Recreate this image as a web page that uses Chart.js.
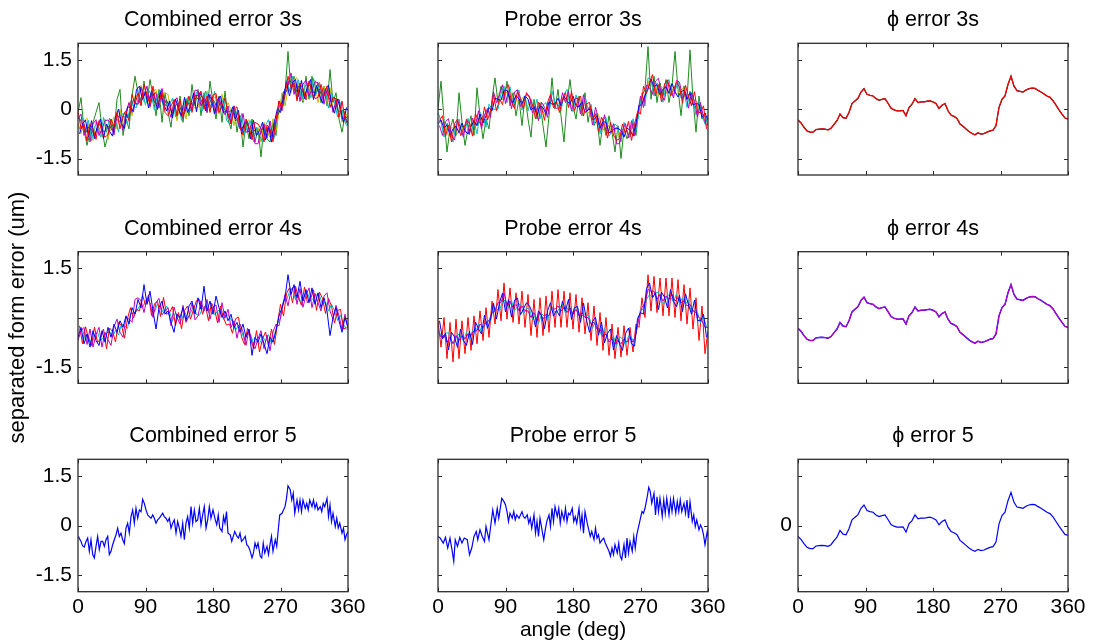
<!DOCTYPE html>
<html>
<head>
<meta charset="utf-8">
<script src="https://cdn.jsdelivr.net/npm/chart.js@4.4.1/dist/chart.umd.min.js"></script>
<style>
  html, body { margin: 0; padding: 0; background: #fff; }
  #fig { position: relative; width: 1093px; height: 643px; overflow: hidden; background: #fff; }
  #fig canvas { position: absolute; left: 0; top: 0; }
</style>
</head>
<body>
<div id="fig"></div>
<script>
// Sampling angles (deg): even grid and the interleaved mid grid
const angleDeg = [
  0,4,8,12,16,20,24,28,32,36,
  40,44,48,52,56,60,64,68,72,76,
  80,84,88,92,96,100,104,108,112,116,
  120,124,128,132,136,140,144,148,152,156,
  160,164,168,172,176,180,184,188,192,196,
  200,204,208,212,216,220,224,228,232,236,
  240,244,248,252,256,260,264,268,272,276,
  280,284,288,292,296,300,304,308,312,316,
  320,324,328,332,336,340,344,348,352,356,
  360
];
const angleMid = [
  2,6,10,14,18,22,26,30,34,38,
  42,46,50,54,58,62,66,70,74,78,
  82,86,90,94,98,102,106,110,114,118,
  122,126,130,134,138,142,146,150,154,158,
  162,166,170,174,178,182,186,190,194,198,
  202,206,210,214,218,222,226,230,234,238,
  242,246,250,254,258,262,266,270,274,278,
  282,286,290,294,298,302,306,310,314,318,
  322,326,330,334,338,342,346,350,354,358
];
const xTicks = [0, 90, 180, 270, 360];
const yTicks = [-1.5, 0, 1.5];

// ---- Combined error, 3 sensors (um) ----
const comb3Green = [
  -0.1,0.35,-0.6,-1.1,-0.7,-0.4,-0.1,0.2,-0.6,-1.15,
  -0.8,-0.3,-0.7,0.3,0.6,-0.8,-0.3,-0.6,0.4,1.0,
  0.5,0.1,0.85,0.2,0.9,0.4,-0.2,0.6,-0.4,0.5,
  -0.1,-0.55,0.3,-0.3,0.4,-0.4,0.3,-0.2,0.75,0.1,
  0.6,-0.2,0.5,-0.1,0.85,0.2,-0.3,0.4,-0.4,0.55,
  -0.3,-0.6,0.1,-0.7,-0.2,-1.15,-0.4,-0.9,-0.3,-1.0,
  -0.6,-1.45,-0.5,-0.9,-1.0,-0.4,-0.8,0.1,0.2,0.5,
  1.75,0.6,1.0,0.3,0.8,0.2,1.0,0.3,1.0,0.4,
  0.8,0.2,0.7,0.1,1.2,0.2,0.5,-0.3,-0.7,-0.2,
  -0.5
];
const comb3Red = [
  -0.05,-0.6,-0.45,-0.97,-0.45,-0.6,-0.92,-0.35,-0.7,-0.85,
  -0.78,-0.3,-0.53,-0.1,-0.6,-0.2,-0.05,-0.35,0.45,0.15,
  0.5,0.12,0.75,0.4,0.18,0.7,0.15,0.23,0.53,-0.1,
  -0.2,0.1,0.27,-0.2,0.3,-0.23,0.1,0.4,-0.1,0.43,
  0.3,0.55,0.0,0.4,-0.1,0.42,0.48,-0.1,0.1,0.33,
  -0.15,-0.45,0.0,0.07,-0.55,-0.78,-0.3,-0.57,-0.93,-0.4,
  -0.45,-0.6,-1.0,-0.48,-0.61,-0.99,-0.35,0.25,0.05,0.4,
  1.0,0.65,0.8,0.25,0.78,0.61,0.28,0.85,0.5,0.33,
  0.35,0.75,0.4,0.7,0.05,0.35,0.32,-0.25,0.25,-0.3,
  -0.2
];
const comb3Blue = [   // on angleMid
  -0.75,-0.45,-0.33,-0.84,-0.35,-0.89,-0.51,-0.3,-0.9,-0.45,
  -0.67,-0.82,-0.24,0.0,-0.45,-0.58,0.07,0.05,-0.07,0.6,
  0.7,0.29,0.52,0.04,0.56,0.37,-0.01,0.53,0.16,-0.05,
  0.25,-0.27,0.31,0.0,-0.19,0.36,-0.1,0.1,0.49,-0.08,
  0.5,0.35,-0.05,0.45,0.29,-0.15,0.29,0.4,-0.11,-0.03,
  -0.3,0.07,-0.29,-0.04,-0.74,-0.42,-0.38,-0.9,-0.34,-0.8,
  -0.65,-0.4,-0.94,-0.52,-1.0,-0.37,0.02,-0.1,0.35,0.83,
  0.4,0.8,0.9,0.39,0.87,0.32,0.69,0.9,0.29,0.72,
  0.42,0.18,0.62,0.73,0.15,-0.12,0.31,0.0,-0.4,0.05
];
const comb3Magenta = [
  -0.3,-0.15,-0.8,-0.47,-1.0,-0.45,-0.32,-0.8,-0.6,-0.35,
  -0.33,-0.45,-0.78,-0.2,-0.25,-0.65,-0.1,0.2,-0.1,0.2,
  0.15,0.67,0.4,0.7,0.08,0.45,0.5,0.03,0.63,0.15,
  0.05,-0.25,0.22,0.35,-0.15,-0.28,0.25,0.15,-0.05,0.58,
  0.55,0.1,0.35,-0.1,0.45,0.27,-0.12,0.35,0.0,-0.17,
  0.1,-0.45,0.1,-0.28,-0.6,-0.13,-0.7,-0.67,-0.43,-1.05,
  -1.05,-0.65,-0.45,-0.88,-0.36,-0.89,-0.4,0.25,-0.05,0.6,
  0.75,1.1,0.45,0.75,0.23,0.76,0.88,0.4,0.6,0.83,
  0.8,0.6,0.15,0.6,0.4,-0.1,0.27,0.3,-0.3,-0.25,
  -0.4
];
const comb3Cyan = [   // on angleMid
  -0.6,-0.25,-0.63,-0.34,-0.95,-0.54,-0.41,-0.85,-0.25,-0.7,
  -0.27,-0.67,-0.34,-0.7,-0.1,-0.23,-0.48,0.25,0.08,0.05,
  0.65,0.54,0.12,0.59,0.41,-0.03,0.44,0.58,0.06,0.15,
  0.15,0.33,-0.24,0.15,-0.34,0.21,0.35,-0.05,0.24,0.52,
  0.4,-0.05,0.55,0.25,0.04,0.55,-0.01,0.05,0.34,-0.33,
  -0.45,-0.13,0.01,-0.54,-0.14,-0.77,-0.48,-0.35,-0.99,-0.55,
  -0.8,-1.0,-0.49,-0.32,-0.8,-0.87,-0.03,0.15,0.1,0.88,
  0.55,1.0,0.6,0.89,0.27,0.67,0.79,0.35,0.94,0.47,
  0.82,0.33,0.52,0.03,0.5,0.23,-0.24,0.2,-0.25,-0.5
];
const comb3Yellow = [
  -0.45,-0.75,-0.35,-0.27,-0.8,-0.95,-0.37,-0.55,-0.85,-0.3,
  -0.93,-0.5,-0.23,-0.6,0.0,-0.55,-0.15,0.2,-0.2,0.4,
  0.4,0.72,0.2,0.55,0.03,0.55,0.6,0.08,0.28,0.5,
  0.45,-0.1,0.12,-0.35,0.2,0.07,-0.3,0.35,0.1,0.03,
  0.05,0.5,0.2,0.55,-0.05,0.32,0.38,-0.15,0.45,-0.02,
  0.2,-0.05,-0.5,-0.08,-0.35,-0.83,-0.4,-0.32,-0.88,-0.75,
  -0.55,-1.0,-0.4,-0.68,-0.86,-0.29,-0.65,-0.1,0.5,0.1,
  0.6,0.5,0.9,0.95,0.43,0.26,0.83,0.65,0.35,0.88,
  0.2,0.55,0.7,0.2,0.65,0.0,0.22,0.3,-0.4,-0.05,
  -0.3
];
const comb3Dark = [   // on angleMid
  -0.28,-0.45,-0.73,-0.54,-0.62,-0.82,-0.53,-0.45,-0.7,-0.63,
  -0.49,-0.67,-0.29,-0.35,-0.4,-0.1,-0.26,-0.03,0.3,0.12,
  0.22,0.47,0.54,0.29,0.51,0.2,0.34,0.43,0.11,0.28,
  0.05,-0.12,0.11,0.18,-0.07,-0.14,0.17,0.18,0.12,0.42,
  0.4,0.17,0.3,0.07,0.34,0.23,-0.01,0.22,0.04,-0.1,
  -0.07,-0.03,-0.36,-0.26,-0.62,-0.42,-0.43,-0.75,-0.69,-0.58,
  -0.8,-0.58,-0.72,-0.52,-0.8,-0.52,-0.18,-0.02,0.53,0.53,
  0.87,0.8,0.5,0.69,0.6,0.39,0.67,0.75,0.49,0.54,
  0.6,0.33,0.57,0.38,0.2,0.36,-0.02,-0.08,-0.03,-0.43
];

// ---- Probe error, 3 sensors (um) ----
const probe3Green = [
  0.0,0.85,-0.3,-1.3,-0.6,-0.3,-0.8,0.5,-0.4,-1.1,
  -0.6,-0.2,-0.8,0.65,-0.2,-0.9,-0.3,-0.6,0.3,0.95,
  0.2,0.7,0.3,0.85,0.1,0.5,-0.2,0.3,-0.5,0.4,
  -0.3,-0.85,0.3,-0.3,0.2,-0.5,-1.15,-0.2,0.95,0.0,
  0.6,-0.2,-1.0,0.2,0.9,0.1,-0.3,0.4,-0.2,0.5,
  -0.4,0.1,-0.5,-0.3,-1.1,-0.4,-0.8,-0.2,-0.7,-1.3,
  -0.5,-1.5,-0.6,-0.9,-0.7,-0.4,-0.8,0.1,0.4,0.6,
  1.9,0.3,1.0,0.2,0.8,0.4,0.9,0.2,0.7,1.75,
  0.6,-0.2,0.7,0.3,1.8,0.3,-0.7,0.4,-0.3,-0.2,
  -0.5
];
const probe3Red = [   // on angleMid
  -0.35,-0.2,-0.83,-0.49,-1.0,-0.44,-0.31,-0.8,-0.6,-0.35,
  -0.42,-0.82,-0.14,-0.35,-0.5,0.07,-0.33,-0.05,0.43,-0.05,
  0.3,0.14,0.62,0.74,0.21,0.02,0.54,0.33,0.01,0.5,
  0.35,0.13,-0.29,0.2,0.06,-0.34,0.2,0.45,0.04,0.22,
  -0.1,0.3,0.5,0.05,0.54,-0.05,0.24,0.4,-0.21,0.17,
  0.2,-0.33,-0.14,-0.69,-0.24,-0.47,-0.88,-0.4,-0.79,-0.95,
  -0.9,-0.45,-0.74,-0.37,-0.95,-0.47,-0.08,-0.15,0.7,0.48,
  0.8,1.05,0.4,0.74,0.22,0.77,0.89,0.4,0.59,0.82,
  0.67,0.18,0.72,0.38,0.1,0.53,-0.09,-0.1,0.1,-0.6
];
const probe3Blue = [
  -0.45,-0.33,-0.58,-0.47,-0.8,-0.6,-0.52,-0.72,-0.42,-0.65,
  -0.76,-0.52,-0.36,-0.5,-0.15,-0.42,-0.2,0.05,-0.05,0.33,
  0.3,0.27,0.55,0.58,0.3,0.2,0.42,0.31,0.16,0.4,
  0.3,-0.03,0.07,-0.18,0.1,0.05,-0.15,0.22,0.15,0.16,
  0.33,0.1,0.4,0.25,0.15,0.4,0.1,0.07,0.22,-0.1,
  -0.02,0.0,-0.32,-0.2,-0.58,-0.38,-0.4,-0.72,-0.68,-0.58,
  -0.58,-0.65,-0.85,-0.58,-0.63,-0.82,-0.42,0.1,0.15,0.42,
  0.6,0.92,0.67,0.75,0.43,0.61,0.68,0.48,0.78,0.53,
  0.37,0.53,0.57,0.3,0.5,0.13,0.17,0.15,-0.25,-0.12,
  -0.35
];
const probe3Magenta = [   // on angleMid
  -0.5,-0.8,-0.38,-0.29,-0.8,-0.94,-0.36,-0.55,-0.85,-0.3,
  -0.77,-0.27,-0.49,-0.05,-0.6,-0.18,0.02,-0.25,0.53,0.2,
  0.45,0.74,0.17,0.54,0.01,0.52,0.59,0.08,0.26,0.45,
  0.4,-0.12,0.11,-0.35,0.21,0.06,-0.25,0.4,0.14,0.02,
  0.05,0.5,0.2,0.55,-0.06,0.3,0.34,-0.15,0.44,-0.08,
  0.05,-0.48,0.06,-0.34,-0.64,-0.17,-0.73,-0.7,-0.44,-1.05,
  -1.05,-0.65,-0.44,-0.87,-0.35,-0.82,-0.18,0.4,0.05,0.73,
  0.65,0.45,0.85,0.94,0.42,0.27,0.84,0.65,0.34,0.87,
  0.82,0.33,0.52,0.03,0.5,0.23,-0.24,0.2,-0.25,-0.5
];
const probe3Cyan = [
  -0.1,-0.35,-0.85,-0.42,-0.6,-1.0,-0.47,-0.3,-0.8,-0.65,
  -0.28,-0.7,-0.38,-0.75,-0.1,-0.25,-0.55,0.15,0.0,0.0,
  0.0,0.47,0.7,0.2,0.68,0.1,0.4,0.58,-0.02,0.4,
  -0.05,0.3,-0.03,0.3,-0.3,0.12,0.2,-0.15,0.55,0.18,
  0.15,-0.05,0.45,0.6,0.1,-0.08,0.43,0.15,-0.15,0.38,
  0.0,0.15,-0.45,-0.13,-0.75,-0.28,-0.25,-0.82,-0.68,-0.45,
  -0.55,-1.0,-0.4,-0.68,-0.86,-0.29,-0.65,-0.1,0.5,0.1,
  0.95,0.9,0.4,0.8,0.63,0.21,0.73,0.9,0.4,0.53,
  0.85,0.35,0.55,0.05,0.55,0.3,-0.18,0.25,-0.2,-0.45,
  -0.2
];
const probe3Yellow = [   // on angleMid
  -0.25,-0.58,-0.53,-0.82,-0.55,-0.61,-0.76,-0.48,-0.65,-0.72,
  -0.54,-0.37,-0.56,-0.27,-0.48,-0.18,-0.03,-0.1,0.18,0.42,
  0.48,0.29,0.57,0.39,0.26,0.5,0.21,0.25,0.38,0.02,
  0.22,0.08,-0.14,0.1,0.04,-0.17,0.13,0.3,0.14,0.24,
  0.15,0.37,0.22,0.4,0.09,0.25,0.24,-0.02,0.27,-0.03,
  -0.15,-0.33,-0.14,-0.16,-0.52,-0.67,-0.46,-0.62,-0.81,-0.55,
  -0.88,-0.67,-0.57,-0.77,-0.5,-0.69,-0.23,0.25,0.2,0.66,
  0.9,0.67,0.7,0.41,0.67,0.6,0.44,0.72,0.54,0.45,
  0.55,0.63,0.3,0.46,0.12,0.28,0.21,-0.15,-0.15,-0.13
];

// ---- Combined error, 4 sensors (um) ----
const comb4Blue = [
  -0.6,-0.3,-0.8,-0.5,-0.9,-0.4,-0.7,-0.85,-0.4,-0.75,
  -0.3,-0.6,-0.2,-0.45,-0.1,-0.3,0.05,-0.2,0.3,0.1,
  0.55,0.3,1.0,0.4,0.8,0.2,-0.35,0.3,0.5,0.1,
  0.2,-0.15,-0.45,0.1,0.0,0.3,-0.1,0.35,0.5,0.1,
  0.6,0.25,0.95,0.2,0.5,0.1,0.65,0.3,0.0,0.2,
  -0.1,0.1,-0.3,-0.15,-0.45,-0.2,-0.6,-0.35,-1.15,-0.6,
  -0.75,-0.5,-0.8,-1.1,-0.6,-0.75,-0.4,0.05,0.3,0.6,
  1.3,0.7,1.0,0.6,1.1,0.5,0.85,0.45,0.9,0.4,
  0.75,0.3,0.6,0.2,-0.55,0.0,0.3,-0.1,-0.45,0.0,
  -0.3
];
const comb4Red = [   // on angleMid
  -0.25,-0.8,-0.28,-0.64,-0.85,-0.29,-0.76,-0.65,-0.35,-0.95,
  -0.32,-0.42,-0.74,-0.15,-0.25,-0.63,-0.03,0.3,-0.02,0.25,
  0.2,0.69,0.37,0.69,0.06,0.42,0.49,0.03,0.61,0.1,
  0.15,0.33,-0.24,0.15,-0.34,0.21,0.35,-0.05,0.24,0.52,
  0.55,0.1,0.35,-0.1,0.44,0.25,-0.16,0.35,-0.01,-0.23,
  -0.2,-0.48,-0.04,0.01,-0.59,-0.82,-0.33,-0.6,-0.94,-0.4,
  -1.05,-0.65,-0.44,-0.87,-0.35,-0.82,-0.18,0.4,0.05,0.73,
  0.9,0.45,0.95,0.59,0.37,0.92,0.44,0.55,0.84,0.22,
  0.77,0.58,0.12,0.58,0.35,-0.17,0.21,0.25,-0.35,-0.3
];
const comb4Cyan = [   // on angleMid
  -0.37,-0.35,-0.7,-0.56,-0.83,-0.54,-0.46,-0.7,-0.6,-0.48,
  -0.42,-0.6,-0.39,-0.53,-0.2,-0.25,-0.33,0.12,0.13,0.18,
  0.35,0.29,0.52,0.57,0.28,0.17,0.41,0.31,0.14,0.35,
  0.18,-0.12,0.16,0.0,-0.09,0.19,-0.03,0.12,0.36,0.09,
  0.07,0.28,0.37,0.15,0.39,0.08,0.19,0.25,-0.06,0.1,
  0.02,-0.13,-0.39,-0.24,-0.41,-0.7,-0.5,-0.5,-0.79,-0.73,
  -0.8,-0.58,-0.72,-0.52,-0.8,-0.52,-0.18,-0.02,0.53,0.53,
  0.78,0.9,0.53,0.67,0.39,0.67,0.74,0.5,0.59,0.69,
  0.67,0.4,0.47,0.2,0.4,0.21,-0.09,0.07,-0.2,-0.37
];
const comb4Magenta = [
  -0.7,-0.4,-0.3,-0.82,-0.35,-0.9,-0.52,-0.3,-0.9,-0.45,
  -0.68,-0.85,-0.28,-0.05,-0.45,-0.6,0.0,-0.05,-0.15,0.55,
  0.6,0.52,0.15,0.6,0.43,0.0,0.45,0.58,0.08,0.2,
  0.3,-0.25,0.32,0.0,-0.2,0.37,-0.15,0.05,0.45,-0.07,
  0.05,0.5,0.2,0.55,-0.05,0.32,0.38,-0.15,0.45,-0.02,
  0.25,-0.3,-0.1,-0.63,-0.2,-0.43,-0.85,-0.37,-0.78,-0.95,
  -0.65,-0.4,-0.95,-0.53,-1.01,-0.44,-0.2,-0.25,0.25,0.7,
  0.35,0.85,0.95,0.4,0.88,0.31,0.68,0.9,0.3,0.73,
  0.45,0.2,0.65,0.75,0.2,-0.05,0.37,0.05,-0.35,0.1,
  -0.35
];

// ---- Probe error, 4 sensors (um) ----
const probe4Red = [
  -0.1,-0.9,0.0,-1.25,-0.15,-1.35,-0.05,-1.25,-0.1,-1.1,
  0.0,-1.0,0.05,-0.8,0.2,-0.7,0.3,-0.6,0.5,-0.2,
  0.85,-0.1,1.05,-0.05,0.9,-0.15,0.75,-0.2,0.8,-0.3,
  0.7,-0.55,0.55,-0.6,0.6,-0.55,0.65,-0.45,0.8,-0.3,
  0.85,-0.3,0.8,-0.3,0.75,-0.35,0.7,-0.45,0.6,-0.5,
  0.45,-0.7,0.35,-0.85,0.15,-1.0,0.0,-1.15,-0.2,-1.25,
  -0.3,-1.2,-0.25,-1.15,-0.3,-1.05,-0.2,-0.3,0.6,0.0,
  1.3,0.2,1.25,0.15,1.2,0.05,1.2,0.05,1.2,0.0,
  1.15,-0.1,1.0,-0.2,0.9,-0.35,0.6,-0.7,0.35,-1.1,
  -0.4
];
const probe4Blue = [   // on angleMid
  -0.1,-0.65,-0.48,-0.99,-0.45,-0.59,-0.91,-0.35,-0.7,-0.85,
  -0.42,-0.82,-0.14,-0.35,-0.5,0.07,-0.33,-0.05,0.43,-0.05,
  0.45,0.74,0.17,0.54,0.01,0.52,0.59,0.08,0.26,0.45,
  0.35,0.13,-0.29,0.2,0.06,-0.34,0.2,0.45,0.04,0.22,
  0.05,0.5,0.2,0.55,-0.06,0.3,0.34,-0.15,0.44,-0.08,
  -0.45,-0.13,0.01,-0.54,-0.14,-0.77,-0.48,-0.35,-0.99,-0.55,
  -0.8,-1.0,-0.49,-0.32,-0.8,-0.87,-0.03,0.15,0.1,0.88,
  1.05,0.6,0.75,0.24,0.77,0.62,0.29,0.85,0.49,0.32,
  0.67,0.18,0.72,0.38,0.1,0.53,-0.09,-0.1,0.1,-0.6
];
const probe4Magenta = [
  -0.4,-0.6,-0.55,-0.75,-0.6,-0.8,-0.55,-0.7,-0.55,-0.65,
  -0.5,-0.55,-0.4,-0.4,-0.2,-0.3,-0.15,-0.1,0.15,0.2,
  0.45,0.45,0.75,0.35,0.5,0.3,0.4,0.2,0.35,0.2,
  0.2,0.0,0.15,-0.1,0.15,-0.05,0.1,0.05,0.3,0.25,
  0.35,0.2,0.3,0.15,0.3,0.1,0.25,0.05,0.15,0.0,
  0.0,-0.2,-0.15,-0.35,-0.35,-0.6,-0.5,-0.75,-0.65,-0.8,
  -0.7,-0.8,-0.65,-0.75,-0.6,-0.75,-0.5,0.0,0.3,0.45,
  0.85,0.8,0.8,0.55,0.7,0.5,0.65,0.55,0.7,0.5,
  0.6,0.45,0.5,0.35,0.4,0.2,0.15,0.0,-0.1,-0.3,
  -0.3
];
const probe4Cyan = [   // on angleMid
  -0.45,-0.65,-0.48,-0.46,-0.73,-0.79,-0.49,-0.57,-0.72,-0.45,
  -0.67,-0.4,-0.47,-0.2,-0.45,-0.23,-0.08,-0.12,0.36,0.25,
  0.22,0.47,0.54,0.29,0.51,0.2,0.34,0.43,0.11,0.28,
  0.25,-0.05,0.06,-0.18,0.11,0.04,-0.1,0.27,0.19,0.15,
  0.28,0.4,0.13,0.33,0.06,0.3,0.29,0.0,0.09,0.14,
  -0.02,-0.33,-0.09,-0.34,-0.54,-0.34,-0.66,-0.68,-0.57,-0.88,
  -0.58,-0.65,-0.84,-0.57,-0.62,-0.75,-0.2,0.25,0.25,0.55,
  0.7,0.6,0.75,0.77,0.49,0.42,0.71,0.63,0.47,0.72,
  0.42,0.6,0.39,0.53,0.15,0.23,0.16,-0.17,0.03,-0.3
];

// ---- Five-sensor results (um), read at their own angles ----
const comb5Deg = [
  0,1,4,6,8.4,10.7,12.9,15.1,17.3,19.6,21.8,24,26.2,28.4,30.7,32.9,35.1,37.3,39.6,41.8,
  44,46.2,48.4,50.7,52.9,55.1,57.3,59.6,61.8,64,66.2,68.4,70.7,72.9,75.1,77.3,79.6,81.8,84,86.2,
  88.4,90.7,92.9,95.1,97.3,99.6,101.8,104,106.2,108.4,110.7,112.9,115,117.3,119.6,121.8,124,126.2,128.4,130.7,
  132.9,135.1,137.3,139.6,141.8,144,146.2,148.4,150.7,152.9,155.1,157.3,159.6,161.8,164,166.2,168.4,170.7,172.9,175.1,
  177.3,180,183,185,187,189,192,194,196,198,200,203,205,207,209,212,214,216,218,220,
  223,225,227,229,232,234,236,238,240,243,245,247,249,252,254,256,258,260,263,265,
  267,269,272,274,276,278,280,283,285,287,289,292,294,296,298,300,303,305,307,309,
  312,314,316,318,320,323,325,327,329,332,334,336,338,340,343,345,347,349,352,354,
  356,358,360
];
const comb5 = [
  -0.33,-0.36,-0.48,-0.61,-0.65,-0.48,-0.38,-0.78,-0.43,-0.88,-0.98,-0.63,-0.33,-0.73,-0.48,-0.48,-0.63,-0.43,-0.33,-0.88,
  -0.78,-0.58,-0.43,-0.28,-0.08,-0.33,-0.23,-0.43,-0.55,-0.08,0.07,-0.23,0.27,0.47,0.07,0.52,0.22,0.47,0.42,0.79,
  0.67,0.47,0.32,0.27,0.22,0.32,0.22,0.07,0.17,0.22,0.3,0.37,0.27,0.22,0.12,0.22,-0.08,0.07,0.17,-0.23,
  0.12,-0.08,-0.33,0.07,-0.43,0.07,0.27,-0.08,0.57,0.07,0.47,0.12,0.17,0.52,0.02,0.32,0.57,-0.08,0.17,0.57,
  0.22,0.47,0.17,0.02,0.32,-0.08,-0.18,0.27,0.07,0.42,-0.23,-0.28,-0.48,-0.33,-0.18,-0.33,-0.38,-0.23,-0.48,-0.43,
  -0.33,-0.58,-0.63,-0.73,-0.98,-0.83,-0.53,-0.68,-0.53,-0.93,-0.98,-0.53,-0.83,-0.63,-0.88,-0.58,-0.33,-0.78,-0.43,-0.63,
  -0.13,0.32,0.37,0.47,0.57,0.82,1.2,1.08,0.77,0.97,0.37,0.77,0.47,0.77,0.42,0.77,0.52,0.67,0.47,0.77,
  0.57,0.77,0.52,0.67,0.47,0.57,0.42,0.67,0.57,0.82,0.27,0.62,0.12,0.37,-0.03,0.22,-0.08,0.07,-0.23,-0.08,
  -0.43,-0.28,-0.18
];
const probe5Deg = [
  0,3,7,10,13,16,19,21,23,26,29,32,35,39,42,45,48,51,53,56,
  59,62,64,68,71,73,76,79,81,83,85,88,90,92,94,96,99,101,103,105,
  108,110,112,114,116,119,121,123,125,128,130,132,134,136,139,141,143,145,148,150,
  152,154,156,159,161,163,165,168,170,172,174,176,179,181,183,185,188,190,192,194,
  196,199,201,203,205,208,210,212,214,216,219,221,223,225,228,230,232,234,236,239,
  241,243,245,248,250,252,254,256,259,261,263,265,268,270,272,274,276,279,281,283,
  285,288,290,292,294,296,299,301,303,305,308,310,312,314,317,319,321,323,325,328,
  330,332,334,336,339,341,343,345,348,350,352,354,356,359,360
];
const probe5 = [
  -0.33,-0.38,-0.53,-0.36,-0.68,-0.38,-0.78,-1.08,-0.43,-0.63,-0.36,-0.53,-0.38,-0.43,-0.88,-0.68,-0.33,-0.18,-0.43,-0.13,
  -0.33,-0.48,-0.03,-0.43,0.12,0.47,0.07,0.52,0.22,0.52,0.82,0.72,0.62,0.42,0.12,0.37,0.22,0.42,0.17,0.32,
  0.22,0.32,0.42,0.27,0.22,0.32,0.07,0.22,-0.08,0.32,-0.23,0.12,-0.33,0.22,-0.18,-0.43,-0.13,0.12,0.32,-0.03,
  0.52,0.12,0.57,0.27,0.52,0.07,0.42,0.17,0.52,0.12,0.37,0.32,0.52,0.12,0.27,0.07,0.52,-0.03,0.32,-0.23,
  0.42,0.07,-0.13,-0.33,-0.18,-0.43,-0.08,-0.38,-0.28,-0.53,-0.43,-0.38,-0.53,-0.63,-0.78,-0.93,-0.68,-0.88,-0.58,-0.83,
  -0.53,-0.93,-1.03,-0.58,-0.98,-0.38,-0.83,-0.48,-0.78,-0.33,-0.68,-0.28,0.02,0.22,0.42,0.37,0.52,0.87,1.15,1.03,
  0.67,0.97,0.32,0.87,0.42,0.82,0.27,0.77,0.37,0.82,0.32,0.77,0.42,0.82,0.37,0.72,0.42,0.77,0.42,0.67,
  0.37,0.77,0.22,0.72,0.12,0.32,-0.03,0.17,-0.13,0.02,-0.08,-0.28,-0.58,-0.18,-0.33
];

// ---- Separated spindle (phi) error (um) ----
const phiError = [
  -0.33,-0.42,-0.55,-0.66,-0.70,-0.70,-0.62,-0.61,-0.60,-0.61,
  -0.63,-0.58,-0.46,-0.35,-0.15,-0.26,-0.28,-0.10,0.17,0.25,
  0.33,0.52,0.62,0.45,0.42,0.40,0.32,0.27,0.30,0.32,
  0.18,0.03,-0.02,-0.05,-0.05,-0.04,-0.20,0.05,0.15,0.32,
  0.20,0.22,0.22,0.24,0.25,0.22,0.17,0.02,0.12,0.17,
  -0.05,-0.18,-0.22,-0.28,-0.45,-0.52,-0.60,-0.68,-0.74,-0.78,
  -0.72,-0.76,-0.74,-0.70,-0.66,-0.64,-0.50,0.05,0.30,0.40,
  0.75,1.00,0.70,0.56,0.54,0.52,0.58,0.62,0.64,0.63,
  0.57,0.52,0.46,0.40,0.36,0.26,0.12,-0.02,-0.15,-0.27,
  -0.30
];

// ---- Figure layout ----
const FIG_W = 1093, FIG_H = 643;
const colX = [[78, 348], [438, 708], [798, 1068]];
const rowY = [[43.3, 175], [251.7, 383.3], [459.3, 591.7]];
const FONT = '"Liberation Sans", Arial, Helvetica, sans-serif';

const C = {
  blue: '#0000ff', green: '#1e8c1e', red: '#ff0000', cyan: '#00bfbf',
  magenta: '#bf00bf', yellow: '#bfbf00', dark: '#404040', black: '#3a1010'
};

// trace helper: values, their angles, colour, width
const tr = (y, x, color, w) => ({ y, x, color, w: w || 1 });

// first trace of each panel is drawn on top
const panels = [
  { row: 0, col: 0, title: 'Combined error 3s', yLabels: [1.5, 0, -1.5], series: [
    tr(comb3Red, angleDeg, C.red), tr(comb3Blue, angleMid, C.blue), tr(comb3Magenta, angleDeg, C.magenta),
    tr(comb3Cyan, angleMid, C.cyan), tr(comb3Dark, angleMid, C.dark), tr(comb3Yellow, angleDeg, C.yellow),
    tr(comb3Green, angleDeg, C.green)] },
  { row: 0, col: 1, title: 'Probe error 3s', yLabels: [], series: [
    tr(probe3Red, angleMid, C.red), tr(probe3Blue, angleDeg, C.blue), tr(probe3Magenta, angleMid, C.magenta),
    tr(probe3Cyan, angleDeg, C.cyan), tr(probe3Yellow, angleMid, C.yellow), tr(probe3Green, angleDeg, C.green)] },
  { row: 0, col: 2, title: '\u03d5 error 3s', yLabels: [], series: [
    tr(phiError, angleDeg, C.red, 1.1), tr(phiError, angleDeg, C.black, 1.3)] },

  { row: 1, col: 0, title: 'Combined error 4s', yLabels: [1.5, -1.5], yTitle: 'separated form error (um)', series: [
    tr(comb4Blue, angleDeg, C.blue), tr(comb4Magenta, angleDeg, C.magenta), tr(comb4Red, angleMid, C.red),
    tr(comb4Cyan, angleMid, C.cyan)] },
  { row: 1, col: 1, title: 'Probe error 4s', yLabels: [], series: [
    tr(probe4Blue, angleMid, C.blue), tr(probe4Magenta, angleDeg, C.magenta), tr(probe4Cyan, angleMid, C.cyan),
    tr(probe4Red, angleDeg, C.red)] },
  { row: 1, col: 2, title: '\u03d5 error 4s', yLabels: [], series: [
    tr(phiError, angleDeg, C.magenta, 1.1), tr(phiError, angleDeg, C.blue, 1.4)] },

  { row: 2, col: 0, title: 'Combined error 5', yLabels: [1.5, 0, -1.5], xLabels: true, series: [
    tr(comb5, comb5Deg, C.blue, 1.2)] },
  { row: 2, col: 1, title: 'Probe error 5', yLabels: [], xLabels: true, xTitle: 'angle (deg)', series: [
    tr(probe5, probe5Deg, C.blue, 1.2)] },
  { row: 2, col: 2, title: '\u03d5 error 5', yLabels: [0], xLabels: true, series: [
    tr(phiError, angleDeg, C.blue, 1.2)] }
];

// inward tick marks and a closed frame, drawn over the traces
const frameBox = {
  id: 'frameBox',
  afterDatasetsDraw(chart) {
    const { ctx, chartArea: a, scales: { x, y } } = chart;
    const len = 4;
    ctx.save();
    ctx.strokeStyle = '#2b2b2b';
    ctx.lineWidth = 1;
    ctx.beginPath();
    xTicks.forEach(v => {
      const px = Math.round(x.getPixelForValue(v)) + 0.5;
      ctx.moveTo(px, a.top); ctx.lineTo(px, a.top + len);
      ctx.moveTo(px, a.bottom); ctx.lineTo(px, a.bottom - len);
    });
    yTicks.forEach(v => {
      const py = Math.round(y.getPixelForValue(v)) + 0.5;
      ctx.moveTo(a.left, py); ctx.lineTo(a.left + len, py);
      ctx.moveTo(a.right, py); ctx.lineTo(a.right - len, py);
    });
    ctx.stroke();
    ctx.lineWidth = 1.3;
    ctx.strokeRect(a.left, a.top, a.right - a.left, a.bottom - a.top);
    ctx.restore();
  }
};

const fig = document.getElementById('fig');
const TITLE_SIZE = 21.5, TITLE_LH = TITLE_SIZE * 1.2, TITLE_GAP = 23;

panels.forEach(p => {
  const [L, R] = colX[p.col];
  const [T, B] = rowY[p.row];
  const yw = p.yTitle ? L : 60;
  const xh = p.xTitle ? 51 : (p.xLabels ? 32 : 0);
  const titlePadBottom = TITLE_GAP - TITLE_LH / 2;
  const titleBox = TITLE_LH + titlePadBottom;

  const canvas = document.createElement('canvas');
  canvas.width = FIG_W; canvas.height = FIG_H;
  canvas.style.width = FIG_W + 'px'; canvas.style.height = FIG_H + 'px';
  fig.appendChild(canvas);

  const datasets = p.series.map(s => ({
    data: s.y.map((v, i) => ({ x: s.x[i], y: v })),
    borderColor: s.color,
    borderWidth: s.w,
    pointRadius: 0,
    tension: 0,
    fill: false
  }));

  new Chart(canvas, {
    type: 'line',
    data: { datasets },
    options: {
      responsive: false,
      animation: false,
      devicePixelRatio: 1,
      events: [],
      layout: { padding: { left: L - yw, right: FIG_W - R, top: T - titleBox, bottom: FIG_H - B - xh } },
      plugins: {
        legend: { display: false },
        tooltip: { enabled: false },
        title: {
          display: true, text: p.title, fullSize: false, color: '#000',
          font: { family: FONT, size: TITLE_SIZE, weight: 'normal', lineHeight: 1.2 },
          padding: { top: 0, bottom: titlePadBottom }
        }
      },
      scales: {
        x: {
          type: 'linear', min: 0, max: 360,
          grid: { display: false, drawTicks: false }, border: { display: false },
          afterBuildTicks: s => { s.ticks = xTicks.map(v => ({ value: v })); },
          afterFit: s => { s.height = xh; },
          ticks: { display: !!p.xLabels, padding: 3, color: '#000', maxRotation: 0, autoSkip: false,
                   font: { family: FONT, size: 21, lineHeight: 1.2 } },
          title: { display: !!p.xTitle, text: p.xTitle || '', color: '#000', padding: { top: 0, bottom: 0 },
                   font: { family: FONT, size: 21, lineHeight: 1.2 } }
        },
        y: {
          type: 'linear', min: -2, max: 2,
          grid: { display: false, drawTicks: false }, border: { display: false },
          afterBuildTicks: s => { s.ticks = yTicks.map(v => ({ value: v })); },
          afterFit: s => { s.width = yw; },
          ticks: { display: p.yLabels.length > 0, padding: 6, color: '#000', autoSkip: false,
                   font: { family: FONT, size: 21, lineHeight: 1.2 },
                   callback: v => (p.yLabels.includes(v) ? String(v) : '') },
          title: { display: !!p.yTitle, text: p.yTitle || '', color: '#000', padding: { top: 5, bottom: 0 },
                   font: { family: FONT, size: 22, lineHeight: 1.2 } }
        }
      }
    },
    plugins: [frameBox]
  });
});
</script>
</body>
</html>
